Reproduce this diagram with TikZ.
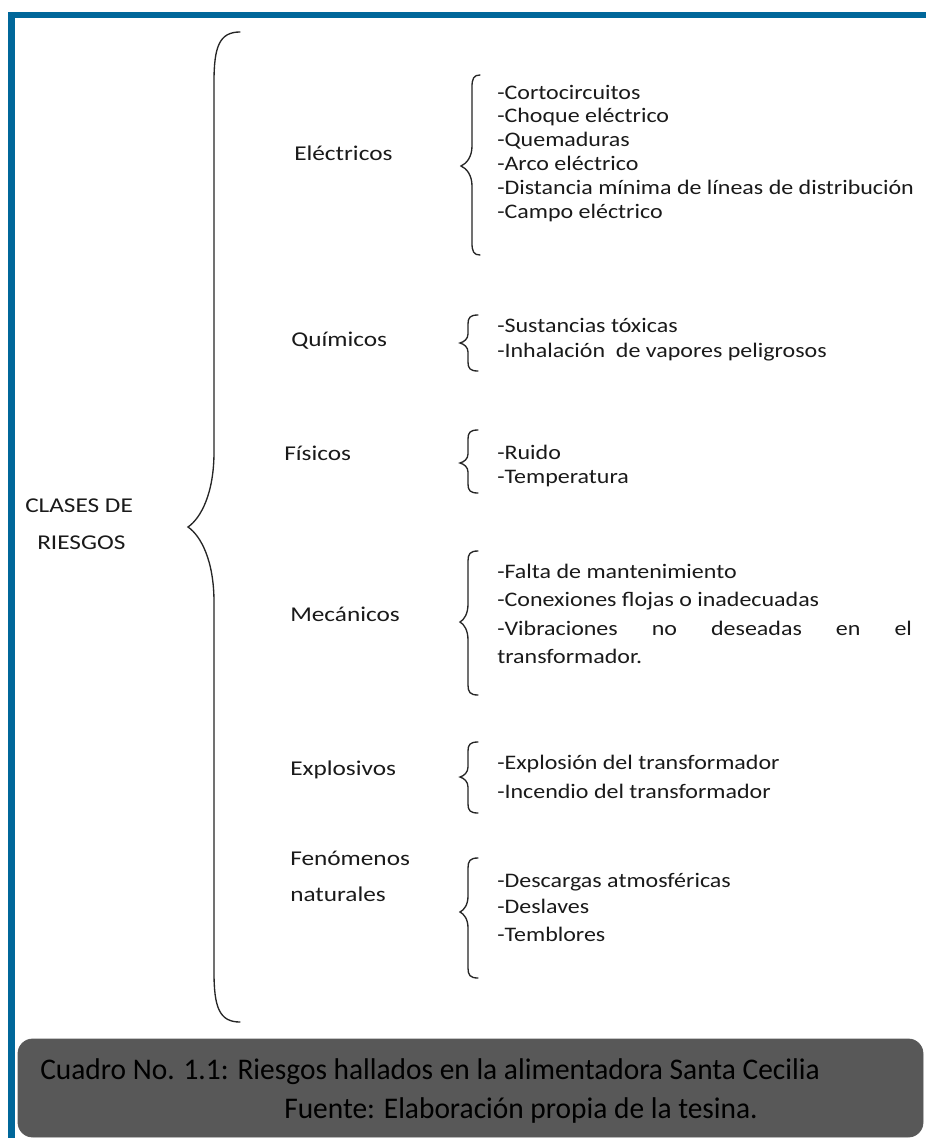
\documentclass[tikz,border=0pt]{standalone}
\usepackage{fontspec}
\setmainfont{Carlito}
\definecolor{frameblue}{HTML}{00679A}
\definecolor{capgray}{HTML}{585858}
\definecolor{inkc}{HTML}{1A1A1A}
\newcommand\mybrace[8]{%
  % #1 xend, #2 xline, #3 xtip, #4 ytop, #5 ymid, #6 ybot, #7 dend, #8 dmid
  \draw[bracestyle] (#1,#4) .. controls (#2+0.2*#1-0.2*#2,#4) and (#2,#4+0.3*#7) .. (#2,#4+#7)
    -- (#2,#5-#8) .. controls (#2,#5-0.45*#8) and (0.5*#2+0.5*#3,#5-0.12*#8) .. (#3,#5)
    .. controls (0.5*#2+0.5*#3,#5+0.12*#8) and (#2,#5+0.45*#8) .. (#2,#5+#8)
    -- (#2,#6-#7) .. controls (#2,#6-0.3*#7) and (#2+0.2*#1-0.2*#2,#6) .. (#1,#6);}
\newcommand\itx[1]{\scalebox{1.16}[1]{#1}}
\newcommand\lbx[1]{\scalebox{1.2}[1]{#1}}
\begin{document}
\begin{tikzpicture}[x=0.75pt,y=-0.75pt,
  lbl/.style={anchor=west, inner sep=0pt, text=inkc, font=\fontsize{15.8pt}{18pt}\selectfont, text height=0.7em, text depth=0.2em},
  itm/.style={anchor=west, inner sep=0pt, text=inkc, font=\fontsize{15.5pt}{18pt}\selectfont, text height=0.7em, text depth=0.2em},
  caplbl/.style={anchor=west, inner sep=0pt, text=black, font=\fontsize{22.5pt}{28pt}\selectfont},
  bracestyle/.style={draw=black!85, line width=1pt, line cap=round},
  capbox/.style={fill=capgray, draw=gray!70!black, line width=0.6pt, rounded corners=11pt}]
\useasboundingbox (0,0) rectangle (926,1138);
\fill[white] (0,0) rectangle (926,1138);
% frame
\fill[frameblue] (8,12) rectangle (926,18);
\fill[frameblue] (8,12) rectangle (15,1138);

% big brace
\mybrace{240}{214}{188}{32}{527}{1022}{50}{75}
\node[lbl] (clases) at (25,509) {\lbx{CLASES DE}};
\node[lbl] (riesgos) at (37,546) {\lbx{RIESGOS}};

% Electricos
\node[lbl] (elec) at (294,157) {\lbx{Eléctricos}};
\mybrace{480}{472}{461}{75}{166}{255}{12}{20}
\node[itm] (e1) at (497,96) {\itx{-Cortocircuitos}};
\node[itm] (e2) at (497,119) {\itx{-Choque eléctrico}};
\node[itm] (e3) at (497,143) {\itx{-Quemaduras}};
\node[itm] (e4) at (497,167) {\itx{-Arco eléctrico}};
\node[itm] (e5) at (497,191) {\itx{-Distancia mínima de líneas de distribución}};
\node[itm] (e6) at (497,215) {\itx{-Campo eléctrico}};

% Quimicos
\node[lbl] (quim) at (291,343) {\lbx{Químicos}};
\mybrace{478}{468}{460}{315}{343}{371}{9}{9}
\node[itm] (q1) at (497,329) {\itx{-Sustancias tóxicas}};
\node[itm] (q2) at (497,354) {\itx{-Inhalación\ \ de vapores peligrosos}};

% Fisicos
\node[lbl] (fis) at (284,457) {\lbx{Físicos}};
\mybrace{478}{468}{460}{430}{463}{493}{9}{9}
\node[itm] (f1) at (497,456) {\itx{-Ruido}};
\node[itm] (f2) at (497,480) {\itx{-Temperatura}};

% Mecanicos
\node[lbl] (mec) at (290,618) {\lbx{Mecánicos}};
\mybrace{478}{468}{460}{551}{622}{695}{10}{18}
\node[itm] (m1) at (497,575) {\itx{-Falta de mantenimiento}};
\node[itm] (m2) at (497,603) {\itx{-Conexiones flojas o inadecuadas}};
\node[itm] (m3) at (497,632) {\makebox[311pt][s]{\itx{-Vibraciones}\hfill\itx{no}\hfill\itx{deseadas}\hfill\itx{en}\hfill\itx{el}}};
\node[itm] (m4) at (497,660) {\itx{transformador.}};

% Explosivos
\node[lbl] (expl) at (290,772) {\lbx{Explosivos}};
\mybrace{478}{468}{460}{742}{777}{813}{9}{10}
\node[itm] (x1) at (497,766) {\itx{-Explosión del transformador}};
\node[itm] (x2) at (497,795) {\itx{-Incendio del transformador}};

% Fenomenos naturales
\node[lbl] (fen) at (290,862) {\lbx{Fenómenos}};
\node[lbl] (nat) at (290,898) {\lbx{naturales}};
\mybrace{478}{468}{460}{858}{912}{978}{10}{16}
\node[itm] (n1) at (497,884) {\itx{-Descargas atmosféricas}};
\node[itm] (n2) at (497,910) {\itx{-Deslaves}};
\node[itm] (n3) at (497,938) {\itx{-Temblores}};

% caption
\draw[capbox] (18,1039) rectangle (923,1137);
\node[caplbl] (cap1) at (40,1072) {\scalebox{0.98}[1]{Cuadro No. 1.1: Riesgos hallados en la alimentadora Santa Cecilia}};
\node[caplbl] (cap2) at (284,1110) {\scalebox{0.98}[1]{Fuente: Elaboración propia de la tesina.}};
\end{tikzpicture}
\end{document}
